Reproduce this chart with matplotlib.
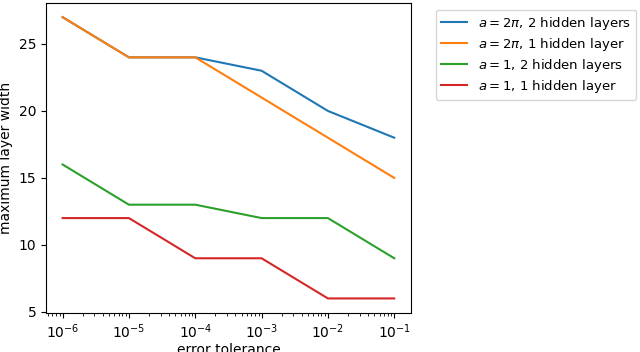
import matplotlib
matplotlib.use("Agg")
import matplotlib.pyplot as plt

# error tolerances and the max layer widths found for each setup
tolerances = [1e-6, 1e-5, 1e-4, 1e-3, 1e-2, 1e-1]
width_2pi_2 = [27, 24, 24, 23, 20, 18]
width_2pi_1 = [27, 24, 24, 21, 18, 15]
width_1_2 = [16, 13, 13, 12, 12, 9]
width_1_1 = [12, 12, 9, 9, 6, 6]

labels = [r"$a=2\pi$, 2 hidden layers",
          r"$a=2\pi$, 1 hidden layer",
          r"$a=1$, 2 hidden layers",
          r"$a=1$, 1 hidden layer"]

fig = plt.figure(figsize=(6.4, 3.52), dpi=100)
ax = fig.add_axes([0.0719, 0.1122, 0.570, 0.879])

for series, label in zip([width_2pi_2, width_2pi_1, width_1_2, width_1_1], labels):
    ax.plot(tolerances, series, label=label)

ax.set_xscale("log")
ax.set_xlabel("error tolerance", labelpad=1.5)
ax.set_ylabel("maximum layer width")
ax.legend(loc="upper left", bbox_to_anchor=(1.05, 1), fontsize=9.5,
          labelspacing=0.3)

fig.savefig("out.png", dpi=100)
